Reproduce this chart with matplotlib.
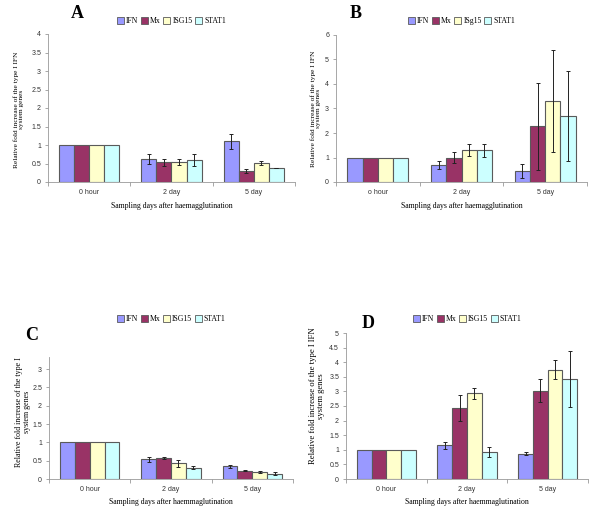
import matplotlib
matplotlib.use("Agg")
import matplotlib.pyplot as plt
import numpy as np
from matplotlib.patches import Patch

categories_abd = ["0 hour", "2 day", "5 day"]
categories_b = ["o hour", "2 day", "5 day"]
genes = ["IFN", "Mx", "ISG15", "STAT1"]
genes_b = ["IFN", "Mx", "ISg15", "STAT1"]
colors = ["#9999FF", "#993366", "#FFFFCC", "#CCFFFF"]

# Panel A
a_vals = [[1.0, 0.62, 1.10], [1.0, 0.53, 0.30], [1.0, 0.53, 0.52], [1.0, 0.60, 0.38]]
a_err = [[0, 0.14, 0.20], [0, 0.10, 0.05], [0, 0.08, 0.05], [0, 0.16, 0.01]]
# Panel B
b_vals = [[1.0, 0.70, 0.45], [1.0, 1.00, 2.27], [1.0, 1.32, 3.30], [1.0, 1.30, 2.70]]
b_err = [[0, 0.15, 0.27], [0, 0.23, 1.78], [0, 0.25, 2.08], [0, 0.27, 1.85]]
# Panel C
c_vals = [[1.0, 0.54, 0.35], [1.0, 0.58, 0.23], [1.0, 0.43, 0.20], [1.0, 0.31, 0.14]]
c_err = [[0, 0.07, 0.04], [0, 0.03, 0.01], [0, 0.09, 0.03], [0, 0.04, 0.04]]
# Panel D
d_vals = [[1.0, 1.15, 0.86], [1.0, 2.43, 3.03], [1.0, 2.93, 3.75], [1.0, 0.93, 3.42]]
d_err = [[0, 0.12, 0.05], [0, 0.43, 0.41], [0, 0.20, 0.33], [0, 0.17, 0.95]]

xlabel_ab = "Sampling days after haemagglutination"
xlabel_cd = "Sampling days after haemmaglutination"
ylabel_full = "Relative fold increase of the type I IFN\nsystem genes"
ylabel_c = "Relative fold increase of the type I\nsystem genes"

W, H = 600, 513
fig = plt.figure(figsize=(6.0, 5.13), dpi=100)
fig.patch.set_facecolor("white")

serif = ["Liberation Serif", "DejaVu Serif"]
sans = ["Liberation Sans", "DejaVu Sans"]


def px_axes(left, right, top, bottom):
    return fig.add_axes([left / W, 1 - bottom / H, (right - left) / W, (bottom - top) / H])


def panel(box, vals, errs, cats, labels, ymax, yticks, ylabel, xlabel, ylab_xy, ylab_fs,
          letter, letter_xy, legend_y):
    ax = px_axes(*box)
    x = np.arange(len(cats))
    bw = 0.183
    for i, (v, e) in enumerate(zip(vals, errs)):
        pos = x + (i - 1.5) * bw
        ax.bar(pos, v, bw, color=colors[i], edgecolor="#5a5a5a", linewidth=0.8, zorder=2)
        ev = np.array(e, dtype=float)
        mask = ev > 0
        ax.errorbar(pos[mask], np.array(v)[mask], yerr=ev[mask], fmt="none",
                    ecolor="#222222", elinewidth=0.7, capsize=1.5, capthick=0.7, zorder=3)
    ax.set_xlim(-0.5, len(cats) - 0.5)
    ax.set_ylim(0, ymax)
    ax.set_yticks(yticks)
    ax.set_yticklabels([("%g" % t) for t in yticks], fontsize=5, family=sans, color="#333333")
    ax.set_xticks(x)
    ax.set_xticklabels(cats, fontsize=5, family=sans, color="#333333")
    ax.set_xticks(np.arange(-0.5, len(cats) + 0.5, 1.0), minor=True)
    ax.tick_params(axis="x", which="major", length=0, pad=5)
    ax.tick_params(axis="x", which="minor", length=3, color="#999999", width=0.6)
    ax.tick_params(axis="y", length=2.5, color="#999999", width=0.6, pad=2.5)
    for s in ["top", "right"]:
        ax.spines[s].set_visible(False)
    for s in ["left", "bottom"]:
        ax.spines[s].set_color("#999999")
        ax.spines[s].set_linewidth(0.6)
    ax.set_xlabel(xlabel, fontsize=5.6, family=serif, labelpad=4)
    ax.set_ylabel(ylabel, fontsize=ylab_fs, family=serif, linespacing=1.0)
    ax.yaxis.set_label_coords(*ylab_xy)
    handles = [Patch(facecolor=colors[i], edgecolor="#5a5a5a", linewidth=0.6) for i in range(4)]
    cx = (box[0] + box[1]) / 2 / W
    fig.legend(handles, labels, loc="center", bbox_to_anchor=(cx, 1 - legend_y / H),
               ncol=4, frameon=False, prop={"family": serif, "size": 5.6},
               handlelength=0.9, handleheight=0.9, handletextpad=0.25, columnspacing=0.35,
               borderaxespad=0)
    fig.text(letter_xy[0] / W, 1 - letter_xy[1] / H, letter, fontsize=13, fontweight="bold",
             family=serif, ha="center", va="center")
    return ax


panel((48, 295, 34, 182), a_vals, a_err, categories_abd, genes, 4,
      np.arange(0, 4.01, 0.5), ylabel_full, xlabel_ab, (-0.097, 0.49), 5.3,
      "A", (77, 14), 21)
panel((336, 587, 35, 182), b_vals, b_err, categories_b, genes_b, 6,
      np.arange(0, 6.01, 1), ylabel_full, xlabel_ab, (-0.058, 0.5), 5.3,
      "B", (356, 14), 21)
panel((49, 293, 357, 479), c_vals, c_err, categories_abd, genes, 3.33,
      np.arange(0, 3.01, 0.5), ylabel_c, xlabel_cd, (-0.075, 0.55), 5.7,
      "C", (32, 335), 319)
panel((346, 588, 333, 479), d_vals, d_err, categories_abd, genes, 5,
      np.arange(0, 5.01, 0.5), ylabel_full, xlabel_cd, (-0.088, 0.57), 6.2,
      "D", (368, 324), 319)

fig.savefig("out.png", dpi=100, facecolor="white")
